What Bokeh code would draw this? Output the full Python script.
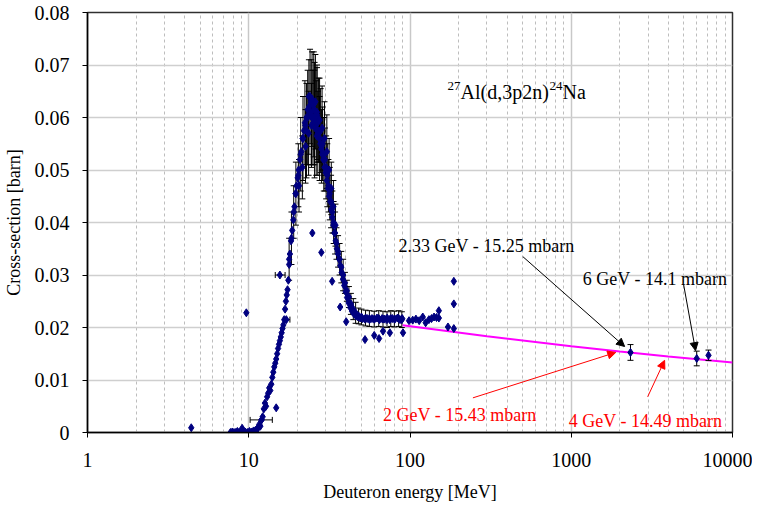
import math
from bokeh.plotting import figure
from bokeh.models import (FixedTicker, Range1d, Label, Arrow, NormalHead)
from bokeh.embed import file_html
from bokeh.resources import INLINE

FONT = "Liberation Serif"

# ---------------- data (MeV, barn) ----------------
# dense measured points without visible error bars
e_main = [7.7, 7.9, 8.1, 8.3, 8.5, 8.7, 8.9, 9.1, 9.3, 9.5, 9.8, 10.1, 10.4, 10.7, 11.0, 11.2,
          11.4, 11.6, 11.8, 12.0, 12.2, 12.4, 12.6, 12.8, 13.0, 13.2, 13.4, 13.6, 13.8, 14.0,
          14.2, 14.4, 14.6, 14.8, 15.0, 15.2, 15.4, 15.6, 15.8, 16.0, 16.2, 16.4, 16.6, 16.8,
          17.0, 17.2, 17.4, 17.6, 17.8, 18.0, 18.3, 18.6, 18.9, 19.2, 19.5, 19.8, 20.1, 20.4,
          20.8, 21.2, 21.6, 22.0, 22.4, 22.8, 23.2, 23.6, 24.0, 24.3, 24.6, 24.9, 25.2, 25.5,
          25.8, 26.1, 26.4, 26.7, 27.0, 27.4, 27.8, 28.2, 28.6, 29.0, 29.5, 30.0, 30.5, 31.0,
          31.5, 32.0, 32.5, 33.0, 33.5, 34.0, 34.6, 35.2, 35.8, 36.4, 37.0, 37.7, 38.4, 39.1,
          39.9, 40.7, 41.6, 42.6, 43.7, 44.9, 46.2, 47.6, 49.1, 50.7, 52.4, 54.2, 56.1, 58.1,
          60.2, 62.4, 64.7, 67.1, 69.6, 72.2, 74.9, 77.7, 80.6, 83.6, 86.7, 89.5,
          98.6, 104, 108.8, 114, 120, 125, 131, 136, 141, 146, 151, 151, 172, 187, 187, 187]
s_main = [0.0, 0.0001, 0.0, 0.0, 0.0002, 0.0, 0.0001, 0.0008, 0.0, 0.0001, 0.0, 0.0002, 0.0001, 0.0003, 0.0004, 0.0006,
          0.0008, 0.0015, 0.0012, 0.0024, 0.0030, 0.0045, 0.0056, 0.0050, 0.0068, 0.0075, 0.0085, 0.0080, 0.0092, 0.0105,
          0.0115, 0.0125, 0.0132, 0.0140, 0.0150, 0.0160, 0.0168, 0.0175, 0.0182, 0.0190, 0.0198, 0.0205, 0.0215, 0.0235,
          0.0250, 0.0262, 0.0272, 0.0290, 0.0320, 0.0340, 0.0365, 0.0385, 0.0405, 0.0430, 0.0455, 0.0470, 0.0485, 0.0500,
          0.0520, 0.0535, 0.0560, 0.0575, 0.0585, 0.0600, 0.0615, 0.0640, 0.0610, 0.0630, 0.0600, 0.0625, 0.0590, 0.0615,
          0.0580, 0.0605, 0.0565, 0.0590, 0.0570, 0.0560, 0.0550, 0.0540, 0.0530, 0.0520, 0.0505, 0.0495, 0.0480, 0.0465,
          0.0450, 0.0440, 0.0425, 0.0410, 0.0395, 0.0380, 0.0365, 0.0350, 0.0340, 0.0330, 0.0318, 0.0305, 0.0292, 0.0280,
          0.0268, 0.0257, 0.0247, 0.0238, 0.0231, 0.0226, 0.0222, 0.0220, 0.0218, 0.0217, 0.0216, 0.0217, 0.0215, 0.0217,
          0.0216, 0.0218, 0.0215, 0.0217, 0.0216, 0.0218, 0.0215, 0.0217, 0.0216, 0.0218, 0.0215, 0.0217,
          0.0213, 0.0214, 0.0216, 0.0213, 0.0220, 0.0209, 0.0215, 0.0217, 0.0220, 0.0219, 0.0232, 0.0218, 0.0201, 0.0198, 0.0245, 0.0288]

# points with vertical error bars
e_err = [17.8, 18.4, 19.0, 19.6, 20.3, 21.0, 21.7, 22.3, 22.8, 23.2, 23.6, 24.0, 24.4, 24.7, 25.0, 25.3,
         25.6, 25.9, 26.2, 26.5, 26.8, 27.1, 27.5, 27.9, 28.3, 28.7, 29.2, 29.7, 30.2, 30.7, 31.2,
         31.8, 32.4, 33.0, 33.6, 34.3, 35.0, 35.8, 36.6, 37.5, 38.5, 39.5, 40.6, 41.8, 43.0, 44.5,
         46.0, 48.0, 50.0, 53.0, 56.0, 60.0, 64.0, 68.0, 72.0, 76.0, 80.0, 85.0, 89.0]
s_err = [0.0330, 0.0370, 0.0420, 0.0455, 0.0490, 0.0530, 0.0560, 0.0590, 0.0575, 0.0600, 0.0620, 0.0640, 0.0610, 0.0635, 0.0600, 0.0625,
         0.0595, 0.0630, 0.0580, 0.0610, 0.0570, 0.0595, 0.0560, 0.0575, 0.0545, 0.0550, 0.0530, 0.0520, 0.0505, 0.0490, 0.0470,
         0.0455, 0.0440, 0.0420, 0.0400, 0.0380, 0.0360, 0.0345, 0.0330, 0.0315, 0.0300, 0.0285, 0.0270, 0.0258, 0.0245, 0.0235,
         0.0228, 0.0222, 0.0220, 0.0218, 0.0217, 0.0216, 0.0217, 0.0216, 0.0215, 0.0217, 0.0216, 0.0217, 0.0215]
d_err = [0.004, 0.005, 0.005, 0.006, 0.006, 0.007, 0.008, 0.008, 0.009, 0.009, 0.009, 0.009, 0.010, 0.009, 0.009, 0.010,
         0.011, 0.009, 0.009, 0.009, 0.008, 0.008, 0.008, 0.008, 0.007, 0.007, 0.007, 0.006, 0.006, 0.006, 0.005,
         0.005, 0.005, 0.004, 0.004, 0.004, 0.003, 0.003, 0.003, 0.003, 0.003, 0.002, 0.002, 0.002, 0.002, 0.002,
         0.002, 0.0015, 0.0015, 0.0015, 0.0015, 0.0015, 0.0015, 0.0015, 0.0015, 0.0015, 0.0015, 0.0015, 0.0015]

# second set across the peak (with error bars)
e_peak2 = [20.5, 21.5, 22.5, 23.5, 24.5, 25.5, 26.5, 27.5, 28.5, 29.5, 30.5, 31.5, 32.5, 33.5, 34.5]
s_peak2 = [0.0470, 0.0505, 0.0545, 0.0570, 0.0585, 0.0600, 0.0605, 0.0595, 0.0580, 0.0560, 0.0535, 0.0500, 0.0465, 0.0430, 0.0395]
d_peak2 = [0.005, 0.006, 0.007, 0.008, 0.008, 0.009, 0.009, 0.008, 0.008, 0.007, 0.007, 0.006, 0.005, 0.005, 0.004]

# points with horizontal (energy) error bars
e_xerr = [12.0, 15.6, 17.1]
s_xerr = [0.0024, 0.0300, 0.0215]
e_xlo = [10.2, 14.6, 16.4]
e_xhi = [14.0, 16.8, 18.0]

# scattered outlying points
e_out = [4.4, 9.66, 14.8, 24.8, 28.2, 32.9, 36.9, 40.2, 52.6, 60.0, 64.3, 68.0, 75.0, 90.5]
s_out = [0.0009, 0.0228, 0.0047, 0.0380, 0.0343, 0.0288, 0.0239, 0.0211, 0.0177, 0.0185, 0.0179, 0.0193, 0.0190, 0.0190]

# high-energy measurements
e_high = [2330, 6000, 7100]
s_high = [0.01525, 0.0141, 0.0147]
d_high = [0.0015, 0.0014, 0.0010]

# fitted trend
fit_e = [90, 300, 1000, 2000, 4000, 10000]
fit_s = [0.02044, 0.01833, 0.01643, 0.01543, 0.01449, 0.01333]

x_ticks = [1, 10, 100, 1000, 10000]
x_tick_labels = ["1", "10", "100", "1000", "10000"]
y_ticks = [0.0, 0.01, 0.02, 0.03, 0.04, 0.05, 0.06, 0.07, 0.08]
y_tick_labels = ["0", "0.01", "0.02", "0.03", "0.04", "0.05", "0.06", "0.07", "0.08"]

# ---------------- figure ----------------
p = figure(x_axis_type="log", output_backend="svg", toolbar_location=None,
           frame_width=645, frame_height=420,
           min_border_left=83, min_border_right=20, min_border_top=12, min_border_bottom=73,
           x_range=Range1d(1, 10000), y_range=Range1d(0, 0.08))
p.background_fill_color = "white"
p.border_fill_color = "white"
p.outline_line_color = "#303030"
p.outline_line_width = 1.5

minor = [m * 10 ** d for d in range(4) for m in range(2, 10)]
p.xaxis.ticker = FixedTicker(ticks=x_ticks)
p.xgrid.ticker = FixedTicker(ticks=x_ticks, minor_ticks=minor)
p.yaxis.ticker = FixedTicker(ticks=y_ticks)
p.ygrid.ticker = FixedTicker(ticks=y_ticks)
p.xaxis.major_label_overrides = {t: l for t, l in zip(x_ticks, x_tick_labels)}
p.yaxis.major_label_overrides = {t: l for t, l in zip(y_ticks, y_tick_labels)}

p.xgrid.grid_line_color = "#c8c8c8"
p.xgrid.grid_line_width = 1.5
p.xgrid.minor_grid_line_color = "#bdbdbd"
p.xgrid.minor_grid_line_dash = "3 3"
p.ygrid.grid_line_color = "#cfcfcf"
p.ygrid.grid_line_width = 1.5

for ax in (p.xaxis, p.yaxis):
    ax.axis_line_color = "black"
    ax.axis_line_width = 1.5
    ax.major_tick_line_color = "black"
    ax.major_tick_out = 5
    ax.major_tick_in = 0
    ax.minor_tick_line_color = None
    ax.major_label_text_font = FONT
    ax.major_label_text_font_size = "20px"
    ax.major_label_text_color = "black"
    ax.axis_label_text_font = FONT
    ax.axis_label_text_font_size = "18px"
    ax.axis_label_text_font_style = "normal"
    ax.axis_label_text_color = "black"
p.xaxis.axis_label = "Deuteron energy [MeV]"
p.yaxis.axis_label = "Cross-section [barn]"
p.xaxis.major_label_standoff = 15
p.yaxis.major_label_standoff = 13
p.xaxis.axis_label_standoff = 12
p.yaxis.axis_label_standoff = 8

NAVY = "#000080"

# fit line
p.line(fit_e, fit_s, line_color="#ff00ff", line_width=2)

# vertical error bars
def vbars(xs, ys, ds):
    lo = [y - d for y, d in zip(ys, ds)]
    hi = [y + d for y, d in zip(ys, ds)]
    p.segment(xs, lo, xs, hi, line_color="black", line_width=1)
    p.scatter(xs + xs, lo + hi, marker="dash", size=6, line_color="black", line_width=1)

vbars(e_err, s_err, d_err)
vbars(e_peak2, s_peak2, d_peak2)
vbars(e_high, s_high, d_high)

# horizontal error bars
p.segment(e_xlo, s_xerr, e_xhi, s_xerr, line_color="black", line_width=1)
p.scatter(e_xlo + e_xhi, s_xerr + s_xerr, marker="dash", angle=math.pi / 2,
          size=6, line_color="black", line_width=1)

# points
for xs, ys in ((e_main, s_main), (e_err, s_err), (e_peak2, s_peak2), (e_xerr, s_xerr),
               (e_out, s_out), (e_high, s_high)):
    p.scatter(xs, ys, marker="diamond", size=8, fill_color=NAVY, line_color=NAVY)

# ---------------- annotations ----------------
def lbl(x, y, text, color="black", size="18px", xo=0, yo=0):
    p.add_layout(Label(x=x, y=y, text=text, text_font=FONT, text_font_size=size,
                       text_color=color, text_baseline="middle", text_align="left",
                       x_offset=xo, y_offset=yo))

# title 27Al(d,3p2n)24Na
lbl(171, 0.0648, "27", size="13px", yo=6)
lbl(171, 0.0648, "Al(d,3p2n)", size="20px", xo=13)
lbl(171, 0.0648, "24", size="13px", xo=102, yo=6)
lbl(171, 0.0648, "Na", size="20px", xo=115)

lbl(85, 0.0355, "2.33 GeV - 15.25 mbarn")
lbl(1180, 0.0292, "6 GeV - 14.1 mbarn")
lbl(68.0, 0.0033, "2 GeV - 15.43 mbarn", color="red")
lbl(966, 0.0022, "4 GeV - 14.49 mbarn", color="red")

def arrow(x0, y0, x1, y1, color):
    p.add_layout(Arrow(end=NormalHead(size=8, fill_color=color, line_color=color),
                       x_start=x0, y_start=y0, x_end=x1, y_end=y1,
                       line_color=color, line_width=1))

arrow(501, 0.0335, 2143, 0.01638, "black")
arrow(4975, 0.0282, 5900, 0.0156, "black")
arrow(245.5, 0.0066, 1888, 0.01525, "red")
arrow(2978, 0.0068, 3794, 0.01374, "red")

open("out.html", "w").write(file_html(p, INLINE))
